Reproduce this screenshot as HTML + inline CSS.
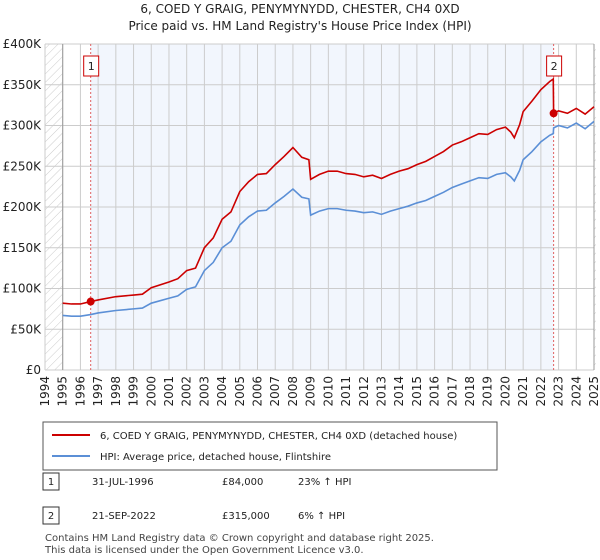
<!DOCTYPE html>
<html><head><meta charset="utf-8"><style>
body{margin:0;background:#fff;font-family:"Liberation Sans","DejaVu Sans",sans-serif;}
svg{display:block}
</style></head><body>
<svg width="600" height="560" font-family="DejaVu Sans, Liberation Sans, sans-serif">
<defs><pattern id="hatch" width="6" height="6" patternUnits="userSpaceOnUse" patternTransform="rotate(45)"><line x1="0" y1="0" x2="0" y2="6" stroke="#ccc" stroke-width="1"/></pattern></defs>
<text x="300" y="13" text-anchor="middle" font-size="12" fill="#222">6, COED Y GRAIG, PENYMYNYDD, CHESTER, CH4 0XD</text>
<text x="300" y="30" text-anchor="middle" font-size="12" fill="#222">Price paid vs. HM Land Registry's House Price Index (HPI)</text>
<g id="plot"></g>
<g>
<rect x="43" y="422" width="454" height="48" fill="#fff" stroke="#555"/>
<line x1="52" y1="435" x2="90" y2="435" stroke="#cc0000" stroke-width="2"/>
<text x="100" y="439" font-size="10" fill="#222">6, COED Y GRAIG, PENYMYNYDD, CHESTER, CH4 0XD (detached house)</text>
<line x1="52" y1="456" x2="90" y2="456" stroke="#5b8fd6" stroke-width="2"/>
<text x="100" y="460" font-size="10" fill="#222">HPI: Average price, detached house, Flintshire</text>
</g>
<g font-size="10" fill="#222">
<rect x="43" y="473" width="16" height="17" fill="#fff" stroke="#333"/><text x="51" y="485" text-anchor="middle">1</text>
<text x="92" y="485">31-JUL-1996</text><text x="222" y="485">£84,000</text><text x="298" y="485">23% ↑ HPI</text>
<rect x="43" y="507" width="16" height="17" fill="#fff" stroke="#333"/><text x="51" y="519" text-anchor="middle">2</text>
<text x="92" y="519">21-SEP-2022</text><text x="222" y="519">£315,000</text><text x="298" y="519">6% ↑ HPI</text>
</g>
<text x="45" y="541" font-size="10" fill="#444">Contains HM Land Registry data © Crown copyright and database right 2025.</text>
<text x="45" y="553" font-size="10" fill="#444">This data is licensed under the Open Government Licence v3.0.</text>
</svg>
<script>
const years=[1995,1995.5,1996,1996.58,1997,1998,1999,1999.5,2000,2001,2001.5,2002,2002.5,2003,2003.5,2004,2004.5,2005,2005.5,2006,2006.5,2007,2007.5,2008,2008.5,2008.9,2009,2009.5,2010,2010.5,2011,2011.5,2012,2012.5,2013,2013.5,2014,2014.5,2015,2015.5,2016,2016.5,2017,2017.5,2018,2018.5,2019,2019.5,2020,2020.3,2020.5,2020.8,2021,2021.5,2022,2022.5,2022.7,2022.72,2023,2023.5,2024,2024.5,2025];
const hpiValues=[67,66,66,68,70,73,75,76,82,88,91,99,102,122,132,150,158,178,188,195,196,205,213,222,212,210,190,195,198,198,196,195,193,194,191,195,198,201,205,208,213,218,224,228,232,236,235,240,242,237,232,245,258,268,280,288,290,297,300,297,303,296,305];
const propertyValues=[82,81,81,84,86,90,92,93,101,108,112,122,125,150,162,185,194,219,231,240,241,252,262,273,261,258,234,240,244,244,241,240,237,239,235,240,244,247,252,256,262,268,276,280,285,290,289,295,298,292,285,301,317,330,344,354,357,315,318,315,321,314,323];
const saleYears=[1996.58,2022.72];
const saleValues=[84,315];
const saleLabels=["1","2"];
const yTicks=[0,50,100,150,200,250,300,350,400];
const yTickLabels=["£0","£50K","£100K","£150K","£200K","£250K","£300K","£350K","£400K"];
const xTicks=[1994,1995,1996,1997,1998,1999,2000,2001,2002,2003,2004,2005,2006,2007,2008,2009,2010,2011,2012,2013,2014,2015,2016,2017,2018,2019,2020,2021,2022,2023,2024,2025];

const X0=45,X1=594,Y0=370,Y1=44;
const xs=y=>X0+(y-1994)/31*(X1-X0);
const ys=v=>Y0-v/400*(Y0-Y1);
const NS="http://www.w3.org/2000/svg";
const g=document.getElementById('plot');
function mk(t,a){const e=document.createElementNS(NS,t);for(const k in a)e.setAttribute(k,a[k]);g.appendChild(e);return e;}
let e;
e=mk('rect',{x:X0,y:Y1,width:X1-X0,height:Y0-Y1,fill:'#fff'});


e=mk('rect',{x:xs(saleYears[0]),y:Y1,width:xs(saleYears[1])-xs(saleYears[0]),height:Y0-Y1,fill:'#f2f6fd'});


e=mk('rect',{x:X0,y:Y1,width:xs(1995)-X0,height:Y0-Y1,fill:'url(#hatch)'});


e=mk('rect',{x:xs(2025),y:Y1,width:X1+2-xs(2025),height:Y0-Y1,fill:'url(#hatch)'});


yTicks.forEach((v,i)=>{
 e=mk('line',{x1:X0,x2:X1,y1:ys(v),y2:ys(v),stroke:'#ccc'});
 
 
 e=mk('text',{x:X0-4,y:ys(v)+4,'text-anchor':'end','font-size':12,fill:'#222'});
 e.textContent=yTickLabels[i];
 
 
});
xTicks.forEach(yr=>{
 e=mk('line',{x1:xs(yr),x2:xs(yr),y1:Y1,y2:Y0,stroke:'#ccc'});
 
 
 e=mk('text',{x:0,y:0,'text-anchor':'end','font-size':12,fill:'#222',transform:`translate(${xs(yr)+4},376) rotate(-90)`});
 e.textContent=yr;
 
 
});
e=mk('line',{x1:xs(1995),x2:xs(1995),y1:Y1,y2:Y0,stroke:'#999'});


e=mk('line',{x1:xs(2025),x2:xs(2025),y1:Y1,y2:Y0,stroke:'#999'});


saleYears.forEach((yr,i)=>{
 e=mk('line',{x1:xs(yr),x2:xs(yr),y1:Y1,y2:Y0,stroke:'#e06060','stroke-dasharray':'2,2'});
 
 
});
e=mk('polyline',{points:years.map((y,i)=>xs(y)+','+ys(hpiValues[i])).join(' '),fill:'none',stroke:'#5b8fd6','stroke-width':1.6});


e=mk('polyline',{points:years.map((y,i)=>xs(y)+','+ys(propertyValues[i])).join(' '),fill:'none',stroke:'#cc0000','stroke-width':1.6});


saleYears.forEach((yr,i)=>{
 e=mk('circle',{cx:xs(yr),cy:ys(saleValues[i]),r:4,fill:'#cc0000'});
 
 
 const bx=xs(yr)-7;
 e=mk('rect',{x:bx,y:56,width:15,height:20,fill:'#fff',stroke:'#cc0000'});
 
 
 e=mk('text',{x:bx+7.5,y:70,'text-anchor':'middle','font-size':11,fill:'#222'});
 e.textContent=saleLabels[i];
 
 
});
</script>
</body></html>
